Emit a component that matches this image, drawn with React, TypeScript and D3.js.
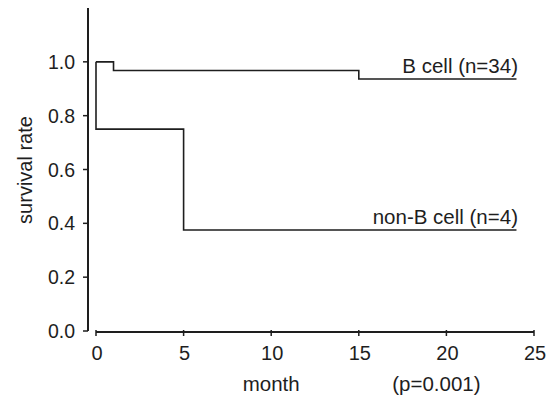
import { useEffect, useRef } from "react";
import * as d3 from "d3";

// Kaplan-Meier steps
const bCellTime = [0, 1, 15, 24];
const bCellSurv = [1.0, 0.968, 0.936, 0.936];
const nonBTime = [0, 0, 5, 24];
const nonBSurv = [1.0, 0.75, 0.375, 0.375];

const yTicks = [0, 0.2, 0.4, 0.6, 0.8, 1.0];
const xTicks = [0, 5, 10, 15, 20, 25];

const bLabel = "B cell (n=34)";
const nonBLabel = "non-B cell (n=4)";
const pLabel = "(p=0.001)";

const App = () => {
  const svgRef = useRef<SVGSVGElement>(null);

  useEffect(() => {
    const width = 556;
    const height = 398;
    const font = "Liberation Sans, Arial, sans-serif";
    const ink = "#1e1e1e";

    const x = d3.scaleLinear().domain([0, 25]).range([96, 534]);
    const y = d3.scaleLinear().domain([0, 1.2]).range([331, 8]);

    const svg = d3
      .select(svgRef.current)
      .attr("width", width)
      .attr("height", height)
      .attr("viewBox", [0, 0, width, height].join(" "));
    svg.selectAll("*").remove();

    svg.append("rect").attr("width", width).attr("height", height).attr("fill", "#fff");

    // y axis
    const yAxis = svg.append("g").attr("transform", "translate(88,0)");
    yAxis
      .append("line")
      .attr("y1", y(0))
      .attr("y2", y(1.2))
      .attr("stroke", ink)
      .attr("stroke-width", 2);
    yAxis
      .selectAll("line.tick")
      .data(yTicks)
      .join("line")
      .attr("class", "tick")
      .attr("x1", -5)
      .attr("x2", 0)
      .attr("y1", (d) => y(d))
      .attr("y2", (d) => y(d))
      .attr("stroke", ink)
      .attr("stroke-width", 1.5);
    yAxis
      .selectAll("text")
      .data(yTicks)
      .join("text")
      .attr("x", -13)
      .attr("y", (d) => y(d))
      .attr("dy", "0.36em")
      .attr("text-anchor", "end")
      .attr("font-family", font)
      .attr("font-size", 19.5)
      .attr("fill", ink)
      .text((d) => d3.format(".1f")(d));

    // x axis
    const xAxis = svg.append("g").attr("transform", "translate(0,332)");
    xAxis
      .append("line")
      .attr("x1", x(0))
      .attr("x2", x(25))
      .attr("stroke", ink)
      .attr("stroke-width", 2);
    xAxis
      .selectAll("line.tick")
      .data(xTicks)
      .join("line")
      .attr("class", "tick")
      .attr("x1", (d) => x(d))
      .attr("x2", (d) => x(d))
      .attr("y1", -2)
      .attr("y2", 4)
      .attr("stroke", ink)
      .attr("stroke-width", 1.5);
    xAxis
      .selectAll("text")
      .data(xTicks)
      .join("text")
      .attr("x", (d) => x(d) + 1)
      .attr("y", 28)
      .attr("text-anchor", "middle")
      .attr("font-family", font)
      .attr("font-size", 20)
      .attr("fill", ink)
      .text((d) => d);

    // axis titles
    svg
      .append("text")
      .attr("transform", "translate(32,170) rotate(-90)")
      .attr("text-anchor", "middle")
      .attr("font-family", font)
      .attr("font-size", 20)
      .attr("fill", ink)
      .text("survival rate");
    svg
      .append("text")
      .attr("x", x(10))
      .attr("y", 391)
      .attr("text-anchor", "middle")
      .attr("font-family", font)
      .attr("font-size", 20.5)
      .attr("fill", ink)
      .text("month");
    svg
      .append("text")
      .attr("x", x(20) - 10)
      .attr("y", 391)
      .attr("text-anchor", "middle")
      .attr("font-family", font)
      .attr("font-size", 20.5)
      .attr("fill", ink)
      .text(pLabel);

    // survival curves
    const line = d3
      .line<[number, number]>()
      .x((d) => x(d[0]))
      .y((d) => y(d[1]))
      .curve(d3.curveStepAfter);

    const bPts = bCellTime.map((t, i) => [t, bCellSurv[i]] as [number, number]);
    const nPts = nonBTime.map((t, i) => [t, nonBSurv[i]] as [number, number]);

    [bPts, nPts].forEach((pts) => {
      svg
        .append("path")
        .attr("d", line(pts))
        .attr("fill", "none")
        .attr("stroke", ink)
        .attr("stroke-width", 1.6);
    });

    svg
      .append("text")
      .attr("x", x(24) + 1.5)
      .attr("y", y(bCellSurv[bCellSurv.length - 1]) - 6)
      .attr("text-anchor", "end")
      .attr("font-family", font)
      .attr("font-size", 20.5)
      .attr("fill", ink)
      .text(bLabel);
    svg
      .append("text")
      .attr("x", x(24) + 1.5)
      .attr("y", y(nonBSurv[nonBSurv.length - 1]) - 6)
      .attr("text-anchor", "end")
      .attr("font-family", font)
      .attr("font-size", 20.5)
      .attr("fill", ink)
      .text(nonBLabel);
  }, []);

  return (
    <svg
      ref={svgRef}
      style={{ position: "absolute", top: 0, left: 0, display: "block" }}
    ></svg>
  );
};

export default App;
